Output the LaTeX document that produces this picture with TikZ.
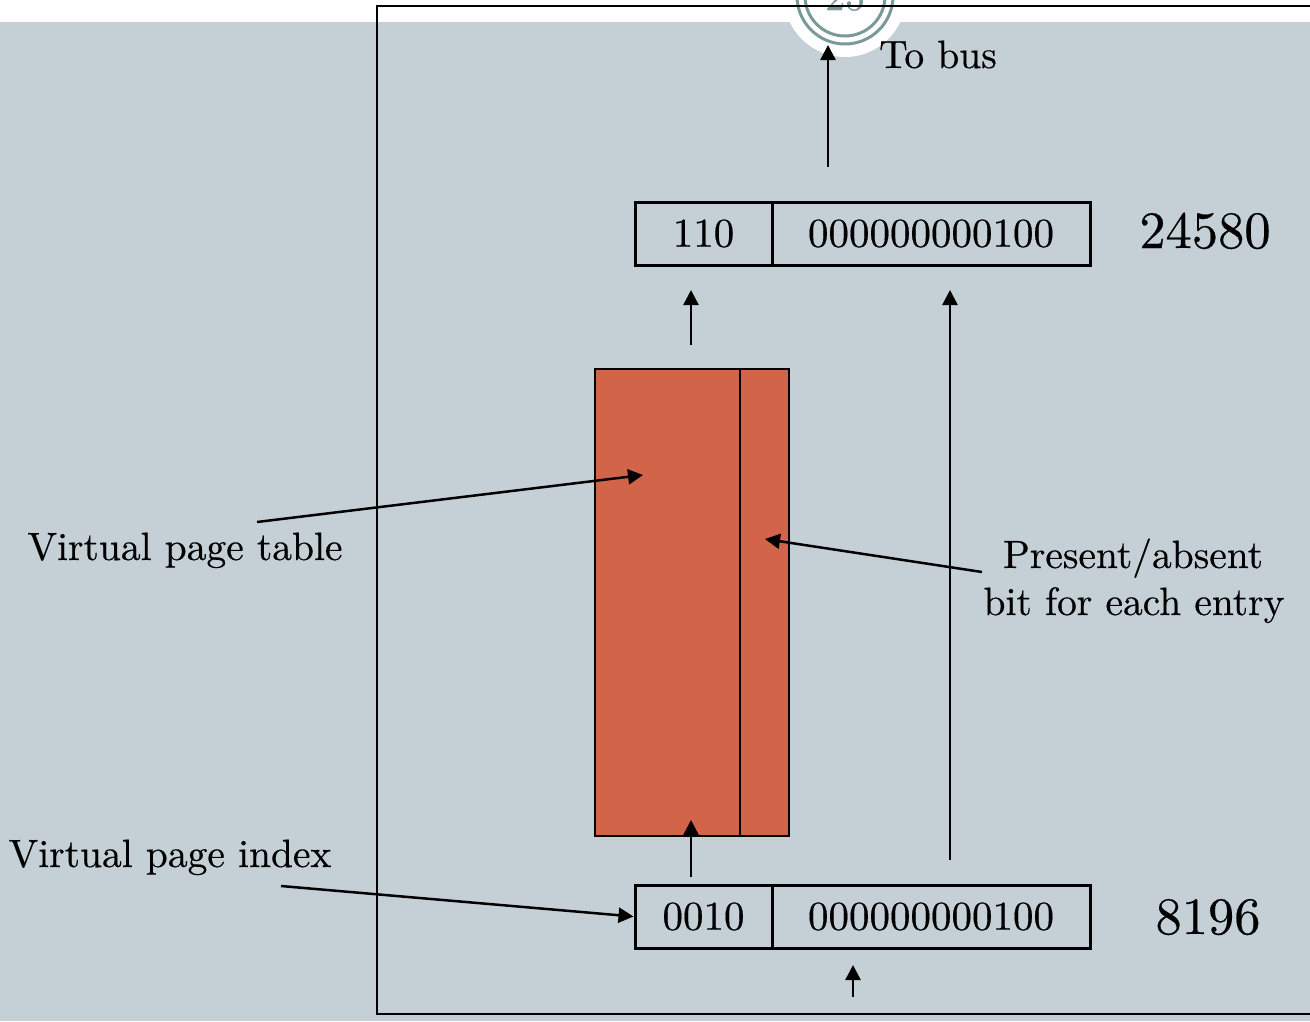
\documentclass[tikz,border=0pt]{standalone}
\usepackage{fontspec}
\setmainfont{lmroman10-regular.otf}[FakeBold=0.4]
\usetikzlibrary{arrows.meta}
\definecolor{bgc}{RGB}{197,208,214}
\definecolor{redc}{RGB}{210,100,74}
\definecolor{ringc}{RGB}{122,154,152}
\begin{document}
\begin{tikzpicture}[x=1pt,y=-1pt,
  cell/.style={draw, line width=3pt, minimum height=63pt, inner sep=0pt, font=\fontsize{41}{49}\selectfont},
  redcell/.style={draw, line width=2.5pt, fill=redc, minimum height=467pt, inner sep=0pt},
  lab/.style={font=\fontsize{39.5}{47}\selectfont, inner sep=0pt, anchor=base},
  num/.style={font=\fontsize{52.5}{60}\selectfont, inner sep=0pt, anchor=base},
  arr/.style={line width=2.5pt, -{Triangle[length=15pt,width=15pt]}}]
\useasboundingbox (0,0) rectangle (1310,1021);
\clip (0,0) rectangle (1310,1021);
\fill[white] (0,0) rectangle (1310,1021);
\fill[bgc] (0,22) rectangle (1310,1021);
% page ornament
\fill[white] (845,-4) circle[radius=61];
\draw[ringc, line width=3pt] (845,-4) circle[radius=48];
\draw[ringc, line width=3pt] (845,-4) circle[radius=40];
\node[text=ringc, font=\fontsize{40}{48}\selectfont, inner sep=0pt, anchor=base] (pg) at (845,10) {25};
% frame
\draw[line width=2pt] (1320,6) -- (377,6) -- (377,1014) -- (1320,1014);
% registers
\node[cell, minimum width=137pt] (tA) at (703.5,233.5) {110};
\node[cell, minimum width=318pt] (tB) at (931,233.5) {000000000100};
\node[cell, minimum width=137pt] (bA) at (703.5,916.5) {0010};
\node[cell, minimum width=318pt] (bB) at (931,916.5) {000000000100};
% page table
\node[redcell, minimum width=145pt] (rA) at (667.5,602.5) {};
\node[redcell, minimum width=49pt] (rB) at (764.5,602.5) {};
% labels
\node[lab] (bus) at (938,68) {To bus};
\node[num] (n1) at (1205,248) {24580};
\node[num] (n2) at (1208,934) {8196};
\node[lab] (vpt) at (185,560) {Virtual page table};
\node[lab] (pa1) at (1133,568) {Present/absent};
\node[lab] (pa2) at (1134,615) {bit for each entry};
\node[lab] (vpi) at (170,867) {Virtual page index};
% arrow end points
\coordinate (busS) at (828,167); \coordinate (busE) at (828,45);
\coordinate (a1s) at (691,345); \coordinate (a1e) at (691,290);
\coordinate (a2s) at (950,860); \coordinate (a2e) at (950,290);
\coordinate (a3s) at (691,877); \coordinate (a3e) at (691,820);
\coordinate (a4s) at (853,997); \coordinate (a4e) at (853,965);
\coordinate (vpts) at (257,522); \coordinate (vpte) at (643,475);
\coordinate (pas) at (982,572); \coordinate (pae) at (765,539);
\coordinate (vpis) at (281,886);
\draw[arr] (busS) -- (busE);
\draw[arr] (a1s) -- (a1e);
\draw[arr] (a2s) -- (a2e);
\draw[arr] (a3s) -- (a3e);
\draw[arr] (a4s) -- (a4e);
\draw[arr] (vpts) -- (vpte);
\draw[arr] (pas) -- (pae);
\draw[arr] (vpis) -- (bA.west);
\end{tikzpicture}
\end{document}
